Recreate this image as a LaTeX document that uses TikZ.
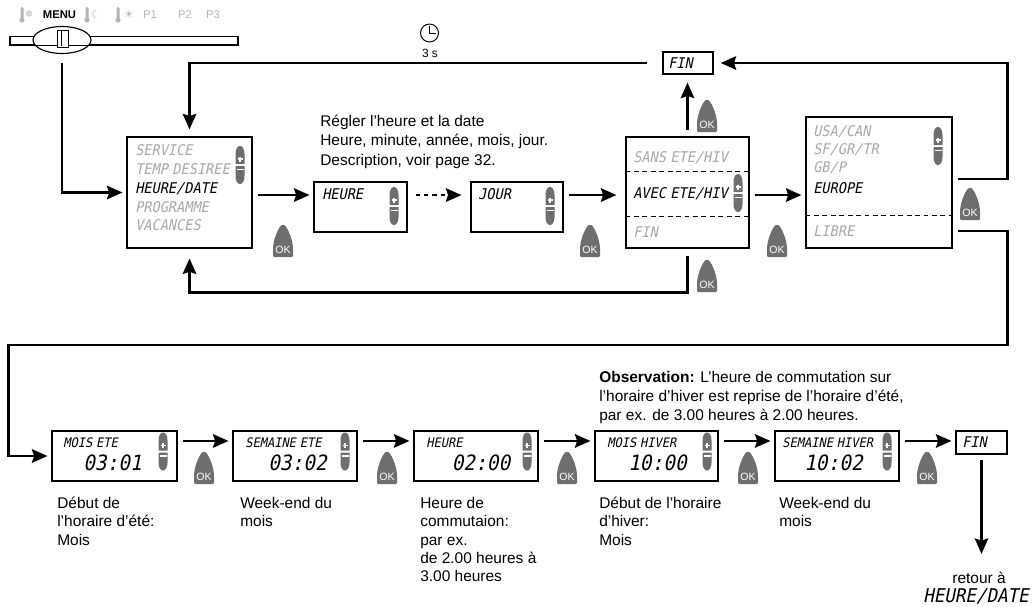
\documentclass[tikz,border=0pt]{standalone}
\usepackage{fontspec}
\setmainfont{Liberation Sans}
\newfontfamily\lcdfont{DejaVu Sans Mono}[FakeSlant=0.2,FakeStretch=0.92,WordSpace=0.55]
\newfontfamily\symfont{DejaVu Sans}
\usetikzlibrary{positioning,arrows.meta,shapes.geometric}
\definecolor{okgray}{HTML}{6E6E6E}
\definecolor{lcdgray}{HTML}{A8A8A8}
\definecolor{icongray}{HTML}{B4B4B4}

\begin{document}
\begin{tikzpicture}[x=0.025cm,y=-0.025cm]
  % styles
  \tikzset{lcdbox/.style 2 args = {draw, line width=0.8pt, minimum width=#1*0.025cm, minimum height=#2*0.025cm, inner sep=0pt}}
  \tikzset{flow/.style = {draw, line width=2pt, -{Stealth[length=11pt,width=9.5pt,inset=1.5pt]}, shorten <=3.6pt, shorten >=2.8pt}}
  \tikzset{lcd/.style = {anchor=west, inner sep=0pt, text depth=0pt, font=\lcdfont\fontsize{10.5}{12}\selectfont}}
  \tikzset{dim/.style = {lcd, text=lcdgray}}
  \tikzset{small/.style = {lcd, font=\lcdfont\fontsize{9.3}{11}\selectfont}}
  \tikzset{digits/.style = {inner sep=0pt, text depth=0pt, font=\lcdfont\fontsize{15}{17}\selectfont}}
  \tikzset{caption/.style = {anchor=north west, align=left, inner sep=0pt, font=\fontsize{11}{13}\selectfont}}
  \tikzset{sep/.style = {dash pattern=on 3.5pt off 2.5pt, line width=0.7pt}}
  \tikzset{okbtn/.pic = {
      \fill[okgray, rounded corners=0.8pt] (-10,0) -- (-10,-7) .. controls (-10,-19) and (-3,-32) .. (0,-32) .. controls (3,-32) and (10,-19) .. (10,-7) -- (10,0) -- cycle;
      \node[text=white, inner sep=0pt, font=\fontsize{7.5}{8}\selectfont] (-t) at (0,-7.5) {OK};
  }}
  \tikzset{updown/.pic = {
      \fill[okgray] (-4.5,-1) -- (-4.5,-11) .. controls (-4.5,-16) and (-2.5,-19) .. (0,-19) .. controls (2.5,-19) and (4.5,-16) .. (4.5,-11) -- (4.5,-1) -- cycle;
      \fill[okgray] (-4.5,1) -- (-4.5,11) .. controls (-4.5,16) and (-2.5,19) .. (0,19) .. controls (2.5,19) and (4.5,16) .. (4.5,11) -- (4.5,1) -- cycle;
      \draw[white, line width=0.9pt] (-2.5,-6) -- (2.5,-6) (0,-8.5) -- (0,-3.5) (-3.5,4.5) -- (3.5,4.5);
  }}

  \useasboundingbox (0,0) rectangle (1036,606);

  % selector
  \foreach \tx in {22,87,118} {
    \fill[icongray, rounded corners=1pt] (\tx-1.5,7) rectangle (\tx+1.5,19);
    \fill[icongray] (\tx,20) circle (2.6);
  }
  \node[text=icongray, inner sep=0pt, font=\symfont\fontsize{7}{8}\selectfont] (snow) at (29,14) {❄};
  \node[inner sep=0pt, font=\bfseries\fontsize{8}{9}\selectfont] (menu) at (59.5,15) {MENU};
  \node[text=icongray, inner sep=0pt, font=\symfont\fontsize{8}{9}\selectfont] (moon) at (96,14) {☾};
  \node[text=icongray, inner sep=0pt, font=\symfont\fontsize{8}{9}\selectfont] (sun) at (129,14) {☀};
  \foreach \p/\px in {1/150,2/185,3/213}
    \node[text=icongray, inner sep=0pt, font=\fontsize{8}{9}\selectfont] (p\p) at (\px,15) {P\p};
  \draw[line width=0.8pt] (10,36.5) rectangle (238,45);
  \node[ellipse, draw, fill=white, line width=0.8pt, minimum width=58*0.025cm, minimum height=27*0.025cm] (knob) at (62,40) {};
  \draw[line width=0.6pt] (36,45) -- (88,45);
  \draw[line width=0.7pt, fill=white] (57,30) rectangle (68,47);
  \draw[line width=0.6pt] (61,31) -- (61,46);

  % clock
  \draw[line width=0.7pt] (429.5,33) circle (9);
  \draw[line width=0.7pt] (429.5,26) -- (429.5,33) -- (436,33);
  \node[inner sep=0pt, font=\fontsize{8.5}{9}\selectfont] (t3s) at (430,53) {3 s};

  % top row
  \node[lcdbox={125}{111}] (b1) at (189.5,192.5) {};
  \node[dim] (s1) at (135,150.5) {SERVICE};
  \node[dim] (s2) at (135,169.5) {TEMP DESIREE};
  \node[lcd] (s3) at (135,188.5) {HEURE/DATE};
  \node[dim] (s4) at (135,207.5) {PROGRAMME};
  \node[dim] (s5) at (135,225.5) {VACANCES};
  \pic at (240,165) {updown};

  \node[lcdbox={93}{50}] (b2) at (360.5,207) {};
  \node[lcd] (h1) at (322,194) {HEURE};
  \pic at (394,206) {updown};

  \node[lcdbox={92}{50}] (b3) at (517,207) {};
  \node[lcd] (j1) at (478,194) {JOUR};
  \pic at (550,206) {updown};

  \node[lcdbox={123}{111}] (b4) at (687.5,192.5) {};
  \node[dim] (e1) at (633,157) {SANS ETE/HIV};
  \node[lcd] (e2) at (633,193) {AVEC ETE/HIV};
  \node[dim] (e3) at (633,232) {FIN};
  \draw[sep] (b4.west |- 0,171) -- (b4.east |- 0,171);
  \draw[sep] (b4.west |- 0,216) -- (b4.east |- 0,216);
  \pic at (738,193) {updown};

  \node[lcdbox={146}{131}] (b5) at (879,182.5) {};
  \node[dim] (z1) at (813,131) {USA/CAN};
  \node[dim] (z2) at (813,149) {SF/GR/TR};
  \node[dim] (z3) at (813,167) {GB/P};
  \node[lcd] (z4) at (813,188) {EUROPE};
  \node[dim] (z5) at (813,231.5) {LIBRE};
  \draw[sep] (b5.west |- 0,215) -- (b5.east |- 0,215);
  \pic at (938,146) {updown};

  \node[lcdbox={50}{22}] (fin1) at (688,63) {};
  \node[lcd] (f1) at (668,63) {FIN};

  \node[caption, font=\fontsize{11}{14}\selectfont] (note1) at (320,114.5)
    {Régler l’heure et la date\\Heure, minute, année, mois, jour.\\Description, voir page 32.};

  % OK keys, top row
  \pic (ok1) at (283,257) {okbtn};
  \pic (ok2) at (590,257) {okbtn};
  \pic (ok3) at (707,132) {okbtn};
  \pic (ok4) at (707,292) {okbtn};
  \pic (ok5) at (777,257) {okbtn};
  \pic (ok6) at (970,220) {okbtn};

  % top row arrows
  \draw[flow, shorten <=6pt] (knob.south) |- (b1.west);
  \draw[flow] ([yshift=-1.8pt]b1.east) -- ([yshift=-1.8pt]b1.east -| b2.west);
  \draw[flow, dash pattern=on 3pt off 3pt, shorten <=5.7pt, shorten >=6.4pt] ([yshift=8.5pt]b2.east) -- ([yshift=8.5pt]b3.west);
  \draw[flow, shorten >=6.4pt] ([yshift=8.5pt]b3.east) -- ([yshift=8.5pt]b3.east -| b4.west);
  \draw[flow] ([yshift=-1.8pt]b4.east) -- ([yshift=-1.8pt]b4.east -| b5.west);
  \draw[flow, shorten <=4.3pt, shorten >=5.7pt] (b4.north) -- (b4.north |- fin1.south);
  \draw[flow, shorten <=10.7pt, shorten >=5pt] (fin1.west) -| (b1.north);
  \draw[flow, shorten >=5pt] ([yshift=2.5pt]b5.east) -- ++(55,0) |- (fin1.east);
  \draw[flow, shorten <=5pt, shorten >=7pt] (b4.south) -- ++(0,44) -| (b1.south);

  % bottom row
  \node[lcdbox={125}{50}] (m1) at (114.5,456) {};
  \node[small] (m1a) at (63,442.5) {MOIS ETE};
  \node[digits] (m1b) at (112.5,462.5) {03:01};
  \pic at (163,451.5) {updown};

  \node[lcdbox={124}{50}] (m2) at (295,456) {};
  \node[small] (m2a) at (245,442.5) {SEMAINE ETE};
  \node[digits] (m2b) at (297.5,462.5) {03:02};
  \pic at (345,451.5) {updown};

  \node[lcdbox={124}{50}] (m3) at (476,456) {};
  \node[small] (m3a) at (426,442.5) {HEURE};
  \node[digits] (m3b) at (481,462.5) {02:00};
  \pic at (527,451.5) {updown};

  \node[lcdbox={123}{50}] (m4) at (656.5,456) {};
  \node[small] (m4a) at (607,442.5) {MOIS HIVER};
  \node[digits] (m4b) at (657.5,462.5) {10:00};
  \pic at (707,451.5) {updown};

  \node[lcdbox={124}{50}] (m5) at (837,456) {};
  \node[small] (m5a) at (782,442.5) {SEMAINE HIVER};
  \node[digits] (m5b) at (833.5,462.5) {10:02};
  \pic at (887,451.5) {updown};

  \node[lcdbox={51}{23}] (fin2) at (981.5,442.5) {};
  \node[lcd] (f2) at (962,442) {FIN};

  \pic (ok7) at (204,484) {okbtn};
  \pic (ok8) at (387,484) {okbtn};
  \pic (ok9) at (567,484) {okbtn};
  \pic (ok10) at (748,484) {okbtn};
  \pic (ok11) at (927,484) {okbtn};

  \draw[flow] ([yshift=-34.5pt]b5.east) -- ++(55,0) -- ++(0,114) -- ++(-999,0) |- (m1.west);
  \draw[flow] ([yshift=10.7pt]m1.east) -- ([yshift=10.7pt]m2.west);
  \draw[flow] ([yshift=10.7pt]m2.east) -- ([yshift=10.7pt]m3.west);
  \draw[flow] ([yshift=10.7pt]m3.east) -- ([yshift=10.7pt]m4.west);
  \draw[flow] ([yshift=10.7pt]m4.east) -- ([yshift=10.7pt]m5.west);
  \draw[flow] ([yshift=10.7pt]m5.east) -- ([yshift=10.7pt]m5.east -| fin2.west);

  % captions
  \node[caption] (c1) at (57,497) {Début de\\l’horaire d’été:\\Mois};
  \node[caption] (c2) at (240,497) {Week-end du\\mois};
  \node[caption] (c3) at (420,497) {Heure de\\commutaion:\\par ex.\\de 2.00 heures à\\3.00 heures};
  \node[caption] (c4) at (599,497) {Début de l’horaire\\d’hiver:\\Mois};
  \node[caption] (c5) at (779,497) {Week-end du\\mois};
  \node[caption, font=\fontsize{11}{13.5}\selectfont] (obs) at (599,371)
    {\textbf{Observation:} L’heure de commutation sur\\l’horaire d’hiver est reprise de l’horaire d’été,\\par ex. de 3.00 heures à 2.00 heures.};

  \node[inner sep=0pt, font=\fontsize{11}{13}\selectfont] (ret) at (979,578) {retour à};
  \node[inner sep=0pt, text depth=0pt, font=\lcdfont\fontsize{13.5}{15}\selectfont] (retlcd) at (976,596) {HEURE/DATE};
  \draw[flow, shorten >=12.8pt] (fin2.south) -- (fin2.south |- ret.north);
\end{tikzpicture}
\end{document}
